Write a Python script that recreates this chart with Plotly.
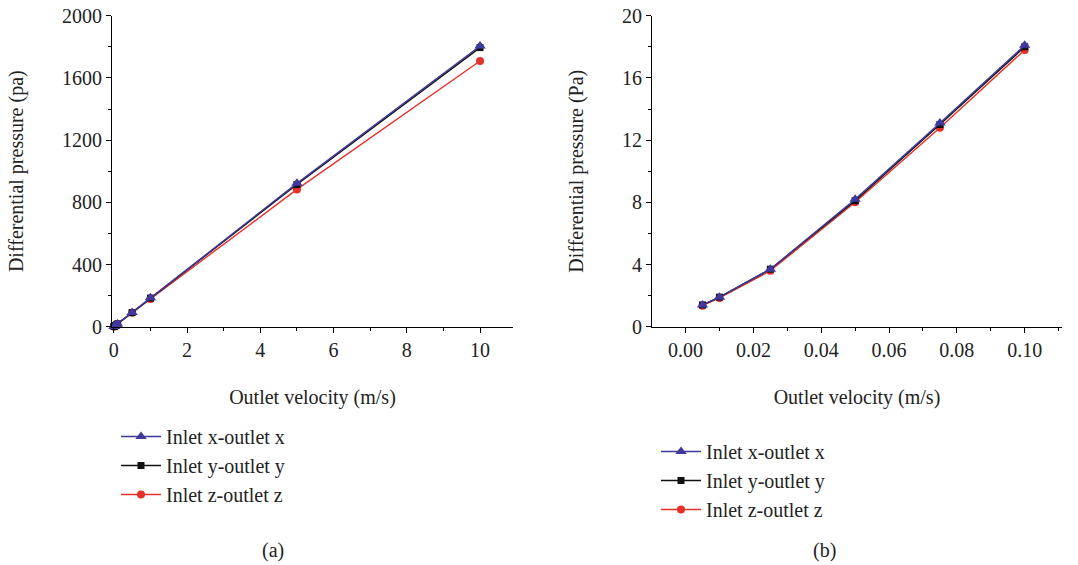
import plotly.graph_objects as go

# ---- data ----
velocity_a = [0.005, 0.01, 0.025, 0.05, 0.075, 0.1, 0.5, 1, 5, 10]
inlet_x_a = [1.4, 1.9, 3.7, 8.2, 13.1, 18.1, 92, 186, 922, 1805]
inlet_y_a = [1.4, 1.9, 3.7, 8.1, 13.0, 18.0, 91, 184, 914, 1795]
inlet_z_a = [1.4, 1.9, 3.6, 8.0, 12.8, 17.8, 89, 178, 883, 1709]

velocity_b = [0.005, 0.01, 0.025, 0.05, 0.075, 0.1]
inlet_x_b = [1.4, 1.9, 3.7, 8.2, 13.1, 18.1]
inlet_y_b = [1.4, 1.9, 3.7, 8.1, 13.0, 18.0]
inlet_z_b = [1.35, 1.85, 3.6, 8.0, 12.8, 17.8]

series_names = ["Inlet x-outlet x", "Inlet y-outlet y", "Inlet z-outlet z"]

BLUE = "#3f399c"
BLACK = "#111111"
RED = "#e8302a"
FONT = "Liberation Serif"
TXT = "#222"

fig = go.Figure()

def add_panel(xv, ys, xa, ya, legend):
    styles = [
        (RED, "circle", 8, 2, series_names[2], ys[2]),
        (BLACK, "square", 7, 1, series_names[1], ys[1]),
        (BLUE, "triangle-up", 10, 0, series_names[0], ys[0]),
    ]
    for color, sym, size, rank, name, yv in styles:
        fig.add_trace(go.Scatter(
            x=xv, y=yv, name=name, mode="lines+markers",
            line=dict(color=color, width=1.4),
            marker=dict(symbol=sym, size=size, color=color),
            xaxis=xa, yaxis=ya, legend=legend, legendrank=rank,
            legendgroup=legend + name, cliponaxis=False,
        ))

add_panel(velocity_a, [inlet_x_a, inlet_y_a, inlet_z_a], "x", "y", "legend")
add_panel(velocity_b, [inlet_x_b, inlet_y_b, inlet_z_b], "x2", "y2", "legend2")

axis_common = dict(
    showline=True, linecolor="black", linewidth=1.2, mirror=False,
    ticks="outside", ticklen=5, tickwidth=1, tickcolor="black",
    showgrid=False, zeroline=False, automargin=False,
    tickfont=dict(family=FONT, size=20, color=TXT),
    title_font=dict(family=FONT, size=20, color=TXT),
)

ydom = [1 - 326.7 / 565, 1 - 15.7 / 565]
minor_style = dict(ticks="outside", ticklen=3, tickcolor="black", showgrid=False)

fig.update_layout(
    width=1078, height=565,
    margin=dict(l=0, r=0, t=0, b=0),
    paper_bgcolor="white", plot_bgcolor="white",
    showlegend=True,
    xaxis=dict(axis_common, domain=[112 / 1078, 513 / 1078], range=[-0.05, 10.9],
               tickmode="linear", tick0=0, dtick=2,
               minor=dict(minor_style, dtick=1, tick0=0),
               title=dict(text="Outlet velocity (m/s)", standoff=30), anchor="y"),
    yaxis=dict(axis_common, domain=ydom, range=[0, 2000],
               tickmode="linear", tick0=0, dtick=400,
               minor=dict(minor_style, dtick=200, tick0=0),
               title=dict(text="Differential pressure (pa)", standoff=32), anchor="x"),
    xaxis2=dict(axis_common, domain=[652 / 1078, 1062 / 1078], range=[-0.0099, 0.111],
                tickmode="linear", tick0=0, dtick=0.02, tickformat=".2f",
                minor=dict(minor_style, dtick=0.01, tick0=0),
                title=dict(text="Outlet velocity (m/s)", standoff=30), anchor="y2"),
    yaxis2=dict(axis_common, domain=ydom, range=[0, 20],
                tickmode="linear", tick0=0, dtick=4,
                minor=dict(minor_style, dtick=2, tick0=0),
                title=dict(text="Differential pressure (Pa)", standoff=32), anchor="x2"),
    legend=dict(x=116 / 1078, y=1 - 417 / 565, xanchor="left", yanchor="top",
                font=dict(family=FONT, size=20, color=TXT), tracegroupgap=0,
                bgcolor="rgba(0,0,0,0)", itemwidth=40),
    legend2=dict(x=656 / 1078, y=1 - 432 / 565, xanchor="left", yanchor="top",
                 font=dict(family=FONT, size=20, color=TXT), tracegroupgap=0,
                 bgcolor="rgba(0,0,0,0)", itemwidth=40),
    annotations=[
        dict(text="(a)", x=273 / 1078, y=1 - 550 / 565, xref="paper", yref="paper",
             xanchor="center", yanchor="middle",
             showarrow=False, font=dict(family=FONT, size=20, color=TXT)),
        dict(text="(b)", x=824 / 1078, y=1 - 550 / 565, xref="paper", yref="paper",
             xanchor="center", yanchor="middle",
             showarrow=False, font=dict(family=FONT, size=20, color=TXT)),
    ],
)

fig.write_html("out.html")
